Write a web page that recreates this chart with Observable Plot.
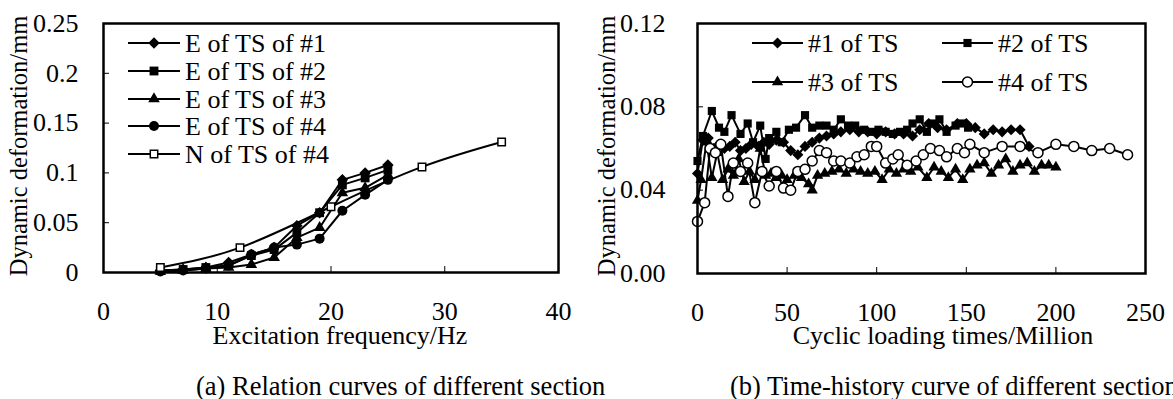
<!DOCTYPE html>
<html><head><meta charset="utf-8">
<script src="https://cdn.jsdelivr.net/npm/d3@7"></script>
<script src="https://cdn.jsdelivr.net/npm/@observablehq/plot@0.6"></script>
<style>
html,body{margin:0;padding:0;background:#fff;overflow:hidden;width:1173px;height:399px;}
#wrap{position:relative;width:1173px;height:399px;font-family:"Liberation Serif","Times New Roman",serif;color:#000;}
#wrap svg text{font-family:"Liberation Serif","Times New Roman",serif !important;}
.panel{position:absolute;top:0;}
.cap{position:absolute;font-size:26.5px;white-space:nowrap;line-height:1;}
</style></head><body><div id="wrap">
<div id="a" class="panel" style="left:0"></div>
<div id="b" class="panel" style="left:590px"></div>
<div class="cap" style="left:196px;top:373px">(a) Relation curves of different section</div>
<div class="cap" style="left:730px;top:373px">(b) Time-history curve of different section</div>
</div>
<script>
// ---------- Panel (a) data ----------
const freqX = [5, 7, 9, 11, 13, 15, 17, 19, 21, 23, 25];
const eTS1 = [0.002, 0.003, 0.005, 0.010, 0.018, 0.025, 0.047, 0.060, 0.093, 0.100, 0.108];
const eTS2 = [0.002, 0.003, 0.005, 0.007, 0.017, 0.023, 0.040, 0.060, 0.088, 0.095, 0.103];
const eTS3 = [0.001, 0.002, 0.004, 0.005, 0.008, 0.015, 0.035, 0.045, 0.080, 0.085, 0.098];
const eTS4 = [0.001, 0.002, 0.004, 0.007, 0.018, 0.025, 0.028, 0.034, 0.062, 0.078, 0.093];
const nTS4X = [5, 12, 20, 28, 35];
const nTS4 = [0.005, 0.025, 0.066, 0.106, 0.131];
const aXTicks = [0, 10, 20, 30, 40];
const aYTicks = [0, 0.05, 0.1, 0.15, 0.2, 0.25];
const aLabels = ["E of TS of #1", "E of TS of #2", "E of TS of #3", "E of TS of #4", "N of TS of #4"];

// ---------- Panel (b) data ----------
const ts1T = [0,3,6,9,12,15,18,21,24,27,30,34,37,40,44,48,52,56,60,64,68,72,76,80,85,90,95,100,105,110,115,120,124,129,134,139,145,150,155,160,165,170,175,180,185];
const ts1V = [0.048,0.064,0.065,0.060,0.062,0.060,0.061,0.063,0.059,0.060,0.062,0.061,0.063,0.062,0.064,0.063,0.059,0.057,0.061,0.063,0.065,0.066,0.067,0.068,0.069,0.068,0.068,0.067,0.068,0.067,0.067,0.066,0.069,0.072,0.070,0.069,0.072,0.072,0.070,0.067,0.069,0.068,0.069,0.069,0.061];
const ts2T = [0,3,8,12,15,19,24,28,31,35,38,40,44,47,51,55,60,64,68,72,76,80,84,88,93,97,101,105,109,113,117,120,124,128,132,135,139,144,148,151];
const ts2V = [0.054,0.066,0.078,0.070,0.068,0.076,0.067,0.072,0.063,0.071,0.055,0.065,0.068,0.063,0.069,0.070,0.076,0.070,0.071,0.071,0.069,0.074,0.071,0.071,0.069,0.068,0.069,0.068,0.067,0.068,0.069,0.072,0.074,0.068,0.072,0.074,0.068,0.071,0.072,0.070];
const ts3T = [0,2,5,8,11,14,17,20,23,26,29,32,35,38,41,44,47,50,54,58,62,64,67,71,75,79,83,87,91,95,99,103,107,111,115,119,123,128,132,136,140,144,148,152,156,160,164,168,172,176,180,184,188,192,196,200];
const ts3V = [0.035,0.045,0.063,0.046,0.058,0.045,0.050,0.047,0.055,0.044,0.049,0.045,0.060,0.047,0.048,0.046,0.047,0.045,0.047,0.046,0.043,0.040,0.047,0.048,0.049,0.050,0.048,0.050,0.049,0.048,0.049,0.045,0.050,0.048,0.050,0.049,0.051,0.046,0.051,0.049,0.046,0.050,0.045,0.050,0.052,0.053,0.048,0.052,0.055,0.049,0.052,0.053,0.049,0.052,0.052,0.051];
const ts4T = [0,4,7,10,13,17,20,24,28,32,36,40,44,48,52,56,60,64,68,72,76,80,85,89,93,97,100,105,109,112,117,122,126,130,135,139,145,149,152,160,170,180,190,200,210,220,230,240];
const ts4V = [0.025,0.034,0.060,0.058,0.062,0.037,0.053,0.049,0.053,0.034,0.049,0.042,0.049,0.041,0.040,0.049,0.050,0.054,0.059,0.058,0.054,0.054,0.053,0.056,0.057,0.061,0.061,0.053,0.055,0.057,0.052,0.054,0.057,0.060,0.059,0.056,0.060,0.058,0.062,0.058,0.061,0.061,0.058,0.062,0.061,0.059,0.060,0.057];
const bXTicks = [0, 50, 100, 150, 200, 250];
const bYTicks = [0, 0.04, 0.08, 0.12];
const bLabels = ["#1 of TS", "#2 of TS", "#3 of TS", "#4 of TS"];

const FONT = '"Liberation Serif","Times New Roman",serif';
const FS = 26;
const H = 345;

const rows = (xs, ys) => xs.map((x, i) => ({x, y: ys[i]}));

function seriesMarks(data, sym, {r = 5, fill = "black", stroke = "none", sw = 0, curve = "linear"} = {}) {
  return [
    Plot.line(data, {x: "x", y: "y", stroke: "black", strokeWidth: 2, curve}),
    Plot.dot(data, {x: "x", y: "y", symbol: sym, r, fill, stroke, strokeWidth: sw})
  ];
}

function panel({width, margin, xDomain, xTicks, yDomain, yTicks, yFormat, yPad, marks}) {
  const innerW = width - margin.left - margin.right;
  const innerH = H - margin.top - margin.bottom;
  return Plot.plot({
    width, height: H,
    marginTop: margin.top, marginRight: margin.right, marginBottom: margin.bottom, marginLeft: margin.left,
    style: {fontFamily: FONT, fontSize: FS + "px", color: "black", background: "white", overflow: "visible"},
    x: {domain: xDomain},
    y: {domain: yDomain},
    marks: [
      ...marks,
      Plot.tickX(xTicks, {x: d => d, insetTop: innerH - 6, stroke: "black", strokeWidth: 1}),
      Plot.tickY(yTicks, {y: d => d, insetRight: innerW - 6, stroke: "black", strokeWidth: 1}),
      Plot.axisX({ticks: xTicks, tickSize: 0, tickPadding: 29, label: null, tickFormat: d => String(d)}),
      Plot.axisY({ticks: yTicks, tickSize: 0, tickPadding: yPad, label: null, tickFormat: yFormat}),
      Plot.frame({stroke: "black", strokeWidth: 2.5})
    ]
  });
}

function addTitles(svg, {xTitle, xCx, xBase, yTitle, yCx, yCy}) {
  const g = d3.select(svg).append("g").attr("font-family", FONT)
    .attr("fill", "black").attr("text-anchor", "middle");
  g.append("text").attr("x", xCx).attr("y", xBase).attr("font-size", FS).text(xTitle);
  g.append("text").attr("transform", `translate(${yCx},${yCy}) rotate(-90)`)
    .attr("font-size", 24.5).attr("dy", "0.32em").text(yTitle);
}

function addLegend(svg, items) {
  const g = d3.select(svg).append("g").attr("font-family", FONT).attr("font-size", FS).attr("text-anchor", "start");
  for (const it of items) {
    g.append("line").attr("x1", it.x0).attr("x2", it.x1).attr("y1", it.y).attr("y2", it.y)
      .attr("stroke", "black").attr("stroke-width", 2);
    g.append("path")
      .attr("transform", `translate(${(it.x0 + it.x1) / 2},${it.y})`)
      .attr("d", d3.symbol(it.sym, Math.PI * it.r * it.r)())
      .attr("fill", it.fill).attr("stroke", it.stroke || "none").attr("stroke-width", it.sw || 0);
    g.append("text").attr("x", it.tx).attr("y", it.y).attr("dy", "0.36em").attr("fill", "black").text(it.label);
  }
}

// ---------- Panel (a) ----------
const aSvg = panel({
  width: 590, margin: {top: 23, right: 32, bottom: 73, left: 103},
  xDomain: [0, 40], xTicks: aXTicks, yDomain: [0, 0.25], yTicks: aYTicks,
  yFormat: d => String(+d.toFixed(2)), yPad: 25,
  marks: [
    ...seriesMarks(rows(freqX, eTS1), "diamond2", {r: 5.2}),
    ...seriesMarks(rows(freqX, eTS2), "square", {r: 5}),
    ...seriesMarks(rows(freqX, eTS3), "triangle", {r: 4.3}),
    ...seriesMarks(rows(freqX, eTS4), "circle", {r: 5}),
    ...seriesMarks(rows(nTS4X, nTS4), "square", {r: 4.2, fill: "white", stroke: "black", sw: 1.5, curve: "natural"})
  ]
});
document.getElementById("a").appendChild(aSvg);
addTitles(aSvg, {xTitle: "Excitation frequency/Hz", xCx: 340, xBase: 344, yTitle: "Dynamic deformation/mm", yCx: 19, yCy: 146});
const aY = [43, 71, 99, 126, 154];
addLegend(aSvg, [
  {x0: 128, x1: 180, y: aY[0], tx: 185, sym: d3.symbolDiamond2, r: 5.2, fill: "black", label: aLabels[0]},
  {x0: 128, x1: 180, y: aY[1], tx: 185, sym: d3.symbolSquare, r: 5, fill: "black", label: aLabels[1]},
  {x0: 128, x1: 180, y: aY[2], tx: 185, sym: d3.symbolTriangle, r: 4.3, fill: "black", label: aLabels[2]},
  {x0: 128, x1: 180, y: aY[3], tx: 185, sym: d3.symbolCircle, r: 5, fill: "black", label: aLabels[3]},
  {x0: 128, x1: 180, y: aY[4], tx: 185, sym: d3.symbolSquare, r: 4.2, fill: "white", stroke: "black", sw: 1.5, label: aLabels[4]}
]);

// ---------- Panel (b) ----------
const bSvg = panel({
  width: 583, margin: {top: 23, right: 28, bottom: 72, left: 107},
  xDomain: [0, 250], xTicks: bXTicks, yDomain: [0, 0.12], yTicks: bYTicks,
  yFormat: d3.format(".2f"), yPad: 32,
  marks: [
    ...seriesMarks(rows(ts1T, ts1V), "diamond2", {r: 5}),
    ...seriesMarks(rows(ts2T, ts2V), "square", {r: 4.6}),
    ...seriesMarks(rows(ts3T, ts3V), "triangle", {r: 4.2}),
    ...seriesMarks(rows(ts4T, ts4V), "circle", {r: 5, fill: "white", stroke: "black", sw: 1.5})
  ]
});
document.getElementById("b").appendChild(bSvg);
addTitles(bSvg, {xTitle: "Cyclic loading times/Million", xCx: 353, xBase: 344, yTitle: "Dynamic deformation/mm", yCx: 17, yCy: 146});
addLegend(bSvg, [
  {x0: 162, x1: 213, y: 43, tx: 218, sym: d3.symbolDiamond2, r: 5, fill: "black", label: bLabels[0]},
  {x0: 352, x1: 403, y: 43, tx: 408, sym: d3.symbolSquare, r: 4.6, fill: "black", label: bLabels[1]},
  {x0: 162, x1: 213, y: 82, tx: 218, sym: d3.symbolTriangle, r: 4.2, fill: "black", label: bLabels[2]},
  {x0: 352, x1: 403, y: 82, tx: 408, sym: d3.symbolCircle, r: 5, fill: "white", stroke: "black", sw: 1.5, label: bLabels[3]}
]);
</script>
</body></html>
